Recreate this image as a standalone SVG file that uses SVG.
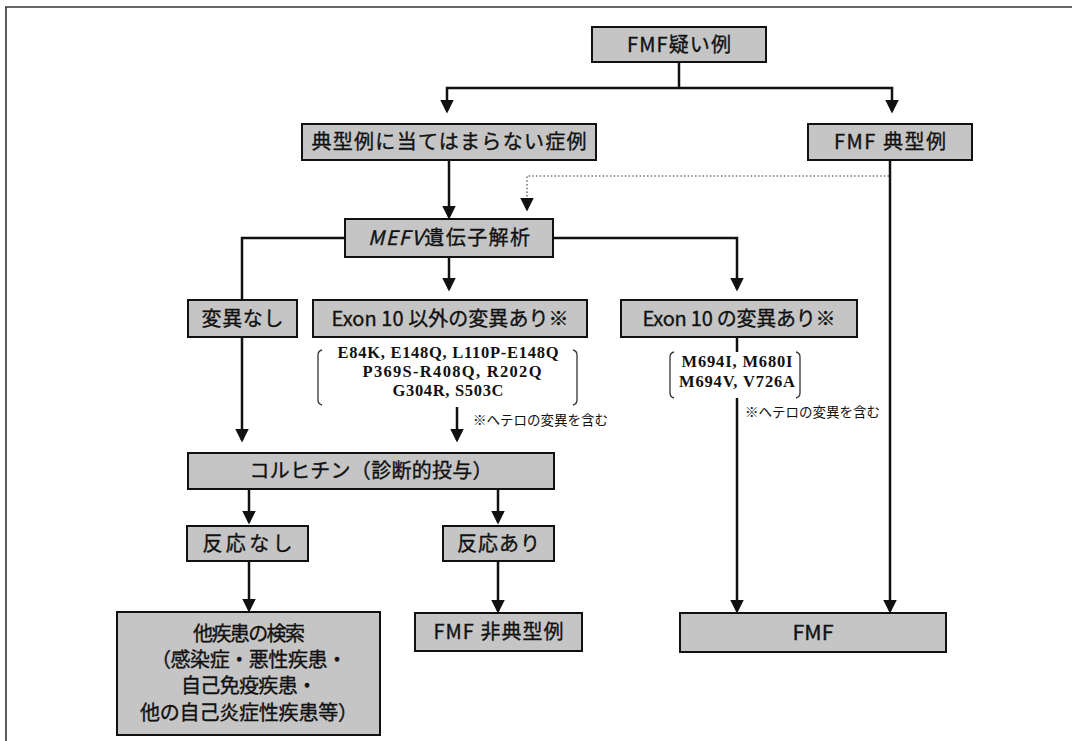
<svg xmlns="http://www.w3.org/2000/svg" width="1076" height="741" viewBox="0 0 1076 741">
<defs>
<style>
.box{fill:#c5c5c5;stroke:#111;stroke-width:2}
.t{font-family:"Noto Sans CJK JP","Liberation Sans",sans-serif;font-size:20px;fill:#111;text-anchor:middle;stroke:#111;stroke-width:0.35}
.m{font-family:"Liberation Serif","Times New Roman",serif;font-weight:bold;font-size:16.5px;fill:#111;text-anchor:middle}
.note{font-family:"Noto Sans CJK JP","Liberation Sans",sans-serif;font-size:13.5px;fill:#111}
.c{fill:none;stroke:#111;stroke-width:2.5;marker-end:url(#ah)}
.ln{fill:none;stroke:#111;stroke-width:2.5}
.br{fill:none;stroke:#333;stroke-width:1.3}
.dot{fill:none;stroke:#777;stroke-width:1.6;stroke-dasharray:1.5 2.2;marker-end:url(#ah)}
</style>
<marker id="ah" markerUnits="userSpaceOnUse" markerWidth="15" markerHeight="15" refX="11.5" refY="7" orient="auto">
<path d="M0,0 L14,7 L0,14 z" fill="#111"/>
</marker>
</defs>
<rect width="1076" height="741" fill="#fff"/>
<g id="frame">
<path d="M5,7 H1072" stroke="#333" stroke-width="1.6" fill="none"/>
<path d="M6,7 V741" stroke="#333" stroke-width="1.6" fill="none"/>
</g>
<g id="connectors">
<path class="ln" d="M679,62 V88"/>
<path class="c" d="M679,88 H447 V111"/>
<path class="c" d="M679,88 H892 V111"/>
<path class="c" d="M449,160 V217"/>
<path class="dot" d="M889,176 H527 V209"/>
<path class="c" d="M890,161 V611"/>
<path class="c" d="M345,238 H242 V440"/>
<path class="c" d="M449,257 V289"/>
<path class="c" d="M553,238 H737 V289"/>
<path class="c" d="M457,407 V440"/>
<path class="ln" d="M737,337 V352"/>
<path class="c" d="M737,398 V611"/>
<path class="c" d="M249,489 V522"/>
<path class="c" d="M498,489 V522"/>
<path class="c" d="M249,561 V610"/>
<path class="c" d="M498,561 V611"/>
</g>
<g id="n-suspect"><rect class="box" x="592" y="27" width="174" height="35"/><text class="t" x="679" y="52" textLength="104">FMF疑い例</text></g>
<g id="n-atypical-case"><rect class="box" x="302" y="124" width="294" height="36"/><text class="t" x="449" y="149" font-size="21" textLength="275">典型例に当てはまらない症例</text></g>
<g id="n-typical"><rect class="box" x="808" y="124" width="164" height="36"/><text class="t" x="890" y="149" textLength="112">FMF 典型例</text></g>
<g id="n-mefv"><rect class="box" x="345" y="219" width="208" height="38"/><text class="t" x="449" y="245" textLength="162"><tspan font-style="italic">MEFV</tspan>遺伝子解析</text></g>
<g id="n-nomut"><rect class="box" x="188" y="300" width="109" height="37"/><text class="t" x="242.5" y="326" textLength="82">変異なし</text></g>
<g id="n-nonexon10"><rect class="box" x="313" y="300" width="274" height="37"/><text class="t" x="450" y="326" textLength="237">Exon 10 以外の変異あり※</text></g>
<g id="n-exon10"><rect class="box" x="621" y="300" width="236" height="37"/><text class="t" x="739" y="326" textLength="193">Exon 10 の変異あり※</text></g>
<g id="list1">
<path class="br" d="M322,350 Q318,351 318,355 V400 Q318,404 322,405"/>
<path class="br" d="M573,350 Q577,351 577,355 V400 Q577,404 573,405"/>
<text class="m" x="448" y="358" textLength="221">E84K, E148Q, L110P-E148Q</text>
<text class="m" x="452" y="377.2" textLength="179">P369S-R408Q, R202Q</text>
<text class="m" x="448" y="396.4" textLength="111">G304R, S503C</text>
<text class="note" x="473" y="425">※ヘテロの変異を含む</text>
</g>
<g id="list2">
<path class="br" stroke-width="1.6" d="M674,352 Q670,353 670,357 V393 Q670,397 674,398"/>
<path class="br" stroke-width="1.6" d="M796,352 Q800,353 800,357 V393 Q800,397 796,398"/>
<text class="m" x="737" y="367" textLength="111">M694I, M680I</text>
<text class="m" x="737" y="386.5" textLength="116">M694V, V726A</text>
<text class="note" x="745" y="417">※ヘテロの変異を含む</text>
</g>
<g id="n-colchicine"><rect class="box" x="188" y="453" width="366" height="36"/><text class="t" x="371" y="478" textLength="243">コルヒチン（診断的投与）</text></g>
<g id="n-noresp"><rect class="box" x="187" y="526" width="121" height="35"/><text class="t" x="247.5" y="551" font-size="21" textLength="90">反応なし</text></g>
<g id="n-resp"><rect class="box" x="443" y="526" width="111" height="35"/><text class="t" x="498.5" y="551" font-size="21" textLength="83">反応あり</text></g>
<g id="n-other"><rect class="box" x="117" y="612" width="263" height="123"/>
<text class="t" x="249" y="641" font-size="18" textLength="112">他疾患の検索</text>
<text class="t" x="249" y="667.2" font-size="18" textLength="196">（感染症・悪性疾患・</text>
<text class="t" x="249" y="693.4" font-size="18" textLength="136">自己免疫疾患・</text>
<text class="t" x="249" y="719.6" font-size="18" textLength="218">他の自己炎症性疾患等）</text>
</g>
<g id="n-fmf-atypical"><rect class="box" x="415" y="613" width="167" height="38"/><text class="t" x="498.5" y="639" textLength="130">FMF 非典型例</text></g>
<g id="n-fmf"><rect class="box" x="680" y="613" width="266" height="39"/><text class="t" x="813" y="640" font-size="22" textLength="41" lengthAdjust="spacingAndGlyphs">FMF</text></g>
</svg>
